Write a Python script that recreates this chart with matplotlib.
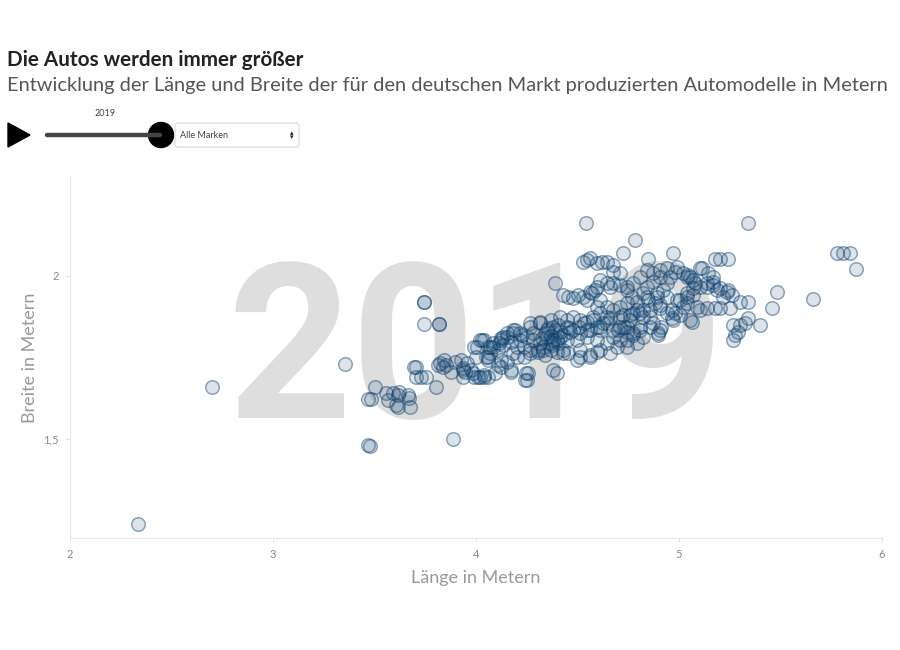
import matplotlib
matplotlib.use("Agg")
import matplotlib.pyplot as plt
from matplotlib.patches import Polygon, Circle, FancyBboxPatch

# Länge (m) und Breite (m) der Modelle, 2019
laenge = [
    # Ausreißer links
    2.335, 2.70, 3.353, 3.466, 3.476, 3.889,
    # Kleinwagen 3,45-3,85
    3.466, 3.481, 3.501, 3.555, 3.589, 3.619, 3.614, 3.663, 3.668, 3.565,
    3.604, 3.614, 3.673, 3.702, 3.702, 3.752, 3.742, 3.742, 3.742, 3.820,
    3.820, 3.801, 3.811, 3.825, 3.840,
    # 3,85-4,15
    3.899, 3.924, 3.934, 3.948, 3.938, 3.973, 3.988, 4.012, 4.037, 3.998,
    4.007, 4.037, 4.047, 4.057, 4.032, 4.057, 4.086, 4.111, 4.135, 3.693,
    3.727, 3.835, 3.938, 3.983, 4.022, 4.057, 4.121, 4.170, 3.958, 4.037,
    4.096, 4.106, 4.071, 4.022, 3.988, 4.121, 3.850, 3.875,
    # 4,15-4,45
    4.155, 4.180, 4.194, 4.229, 4.268, 4.283, 4.317, 4.352, 4.381, 4.416,
    4.155, 4.180, 4.204, 4.234, 4.268, 4.303, 4.332, 4.367, 4.401, 4.431,
    4.170, 4.258, 4.239, 4.381, 4.401, 4.184, 4.219, 4.253, 4.283, 4.317,
    4.155, 4.121, 4.086, 4.071, 4.106, 4.135, 4.170, 4.204, 4.234, 4.268,
    4.303, 4.332, 4.367, 4.401, 4.431, 4.121, 4.057, 4.244, 4.253, 4.455,
    4.268, 4.317, 4.367, 4.352, 4.381, 4.416, 4.219, 4.342, 4.342, 4.367,
    4.391, 4.406, 4.431, 4.357, 4.376, 4.406, 4.327, 4.460,
    # 4,45-4,85
    4.391, 4.544, 4.549, 4.563, 4.598, 4.622, 4.647, 4.677, 4.529, 4.711,
    4.677, 4.726, 4.785, 4.849, 4.431, 4.455, 4.480, 4.504, 4.529, 4.549,
    4.573, 4.598, 4.613, 4.563, 4.588, 4.647, 4.677, 4.711, 4.745, 4.775,
    4.809, 4.662, 4.745, 4.770, 4.613,
    4.627, 4.563, 4.598, 4.534, 4.509, 4.465, 4.416, 4.450, 4.480, 4.514,
    4.549, 4.578, 4.613, 4.647, 4.480, 4.514, 4.549, 4.613, 4.450, 4.578,
    4.613, 4.647, 4.677, 4.711, 4.745, 4.775, 4.809, 4.450, 4.499, 4.549,
    4.598, 4.647, 4.677, 4.711, 4.745, 4.795, 4.824, 4.514, 4.563, 4.613,
    4.662, 4.696, 4.499, 4.563, 4.598, 4.514,
    4.647, 4.677, 4.711, 4.745, 4.795, 4.726, 4.598, 4.662, 4.711, 4.760,
    4.809, 4.745, 4.775, 4.731, 4.701, 4.745, 4.760, 4.795, 4.824, 4.824,
    4.775,
    # 4,85-5,1
    4.942, 4.982, 5.021, 5.045, 4.908, 4.873, 4.844, 4.824, 4.849, 4.883,
    4.908, 4.942, 4.967, 4.982, 5.006, 5.041, 5.070, 5.105, 5.139, 5.168,
    4.898, 4.913, 4.873, 4.859, 4.893, 4.923, 4.942, 4.957, 4.992, 5.055,
    5.080, 5.139, 5.168, 5.203, 5.237, 5.262, 4.908, 4.972, 5.006, 5.021,
    4.992, 5.041, 5.070, 4.898, 4.859, 4.844, 4.873, 4.908, 5.041, 5.070,
    4.844, 4.893, 4.942, 5.041, 5.090, 4.859, 4.967, 5.055, 4.908, 4.972,
    4.809,
    # rechts
    5.341, 5.178, 5.203, 5.242, 5.114, 5.168, 5.144, 5.105, 5.242, 5.218,
    5.188, 5.178, 5.203, 5.252, 5.105, 5.139, 5.065, 5.301, 5.341, 5.267,
    5.301, 5.326, 5.341, 5.400, 5.291, 5.267, 5.277, 5.459, 5.483, 5.660,
    5.779, 5.808, 5.843, 5.872,
]

breite = [
    1.239, 1.660, 1.730, 1.482, 1.479, 1.500,
    1.623, 1.623, 1.660, 1.641, 1.641, 1.644, 1.635, 1.635, 1.626, 1.620,
    1.604, 1.598, 1.598, 1.721, 1.690, 1.690, 1.920, 1.920, 1.853, 1.853,
    1.853, 1.660, 1.727, 1.733, 1.742,
    1.736, 1.742, 1.718, 1.706, 1.690, 1.712, 1.690, 1.690, 1.690, 1.752,
    1.782, 1.804, 1.752, 1.742, 1.804, 1.782, 1.782, 1.794, 1.813, 1.721,
    1.690, 1.721, 1.712, 1.702, 1.690, 1.752, 1.742, 1.712, 1.733, 1.696,
    1.702, 1.727, 1.782, 1.804, 1.782, 1.810, 1.727, 1.706,
    1.825, 1.825, 1.834, 1.819, 1.844, 1.825, 1.856, 1.834, 1.844, 1.828,
    1.736, 1.764, 1.752, 1.752, 1.764, 1.773, 1.782, 1.794, 1.804, 1.773,
    1.706, 1.702, 1.681, 1.712, 1.702, 1.834, 1.825, 1.813, 1.804, 1.794,
    1.813, 1.804, 1.794, 1.764, 1.773, 1.788, 1.798, 1.782, 1.782, 1.773,
    1.767, 1.773, 1.773, 1.767, 1.764, 1.721, 1.690, 1.702, 1.681, 1.764,
    1.856, 1.859, 1.865, 1.813, 1.804, 1.813, 1.804, 1.758, 1.825, 1.816,
    1.834, 1.850, 1.819, 1.841, 1.788, 1.794, 1.810, 1.841,
    1.979, 2.163, 2.049, 2.055, 2.040, 2.043, 2.043, 2.034, 2.043, 2.009,
    2.012, 2.071, 2.110, 2.052, 1.942, 1.936, 1.933, 1.942, 1.936, 1.926,
    1.948, 1.966, 1.988, 1.951, 1.957, 1.979, 1.979, 1.972, 1.966, 1.979,
    1.997, 1.966, 1.957, 1.936, 1.926,
    1.856, 1.834, 1.844, 1.856, 1.844, 1.828, 1.874, 1.865, 1.874, 1.865,
    1.859, 1.874, 1.887, 1.874, 1.834, 1.825, 1.834, 1.834, 1.844, 1.865,
    1.844, 1.856, 1.834, 1.844, 1.828, 1.819, 1.834, 1.804, 1.804, 1.813,
    1.804, 1.794, 1.813, 1.804, 1.782, 1.794, 1.813, 1.773, 1.758, 1.773,
    1.764, 1.782, 1.742, 1.752, 1.767, 1.752,
    1.905, 1.896, 1.905, 1.917, 1.920, 1.880, 1.905, 1.871, 1.874, 1.880,
    1.887, 1.804, 1.825, 1.844, 1.834, 1.844, 1.865, 1.896, 1.874, 1.896,
    1.887,
    2.025, 2.012, 2.009, 2.003, 1.997, 1.982, 1.966, 1.948, 1.926, 1.917,
    1.902, 1.887, 1.871, 1.887, 1.926, 1.948, 1.963, 1.966, 1.979, 1.982,
    1.825, 1.844, 1.856, 1.874, 1.936, 1.957, 1.979, 1.997, 2.028, 1.997,
    1.979, 1.966, 1.972, 1.963, 1.951, 1.942, 1.911, 1.865, 1.880, 1.905,
    1.926, 1.936, 1.942, 1.819, 1.844, 2.018, 2.009, 2.018, 1.997, 1.988,
    1.936, 1.948, 1.936, 1.917, 1.905, 1.896, 1.896, 1.865, 1.834, 2.071,
    1.844,
    2.163, 2.052, 2.052, 2.052, 2.025, 1.997, 2.009, 2.025, 1.957, 1.936,
    1.957, 1.902, 1.902, 1.902, 1.896, 1.902, 1.859, 1.920, 1.920, 1.850,
    1.850, 1.856, 1.871, 1.850, 1.828, 1.804, 1.819, 1.902, 1.951, 1.929,
    2.071, 2.071, 2.071, 2.021,
]

x_ticks = [2, 3, 4, 5, 6]
y_ticks = [1.5, 2.0]
y_tick_labels = ["1,5", "2"]
jahr = "2019"

assert len(laenge) == len(breite)

plt.rcParams["font.family"] = ["Lato", "DejaVu Sans"]

fig = plt.figure(figsize=(9, 6.5), dpi=100)
ax = fig.add_axes([70 / 900, 1 - 538 / 650, 812 / 900, 360 / 650])

# großes Jahr im Hintergrund
ax.text(0.5, 0.333, jahr, transform=ax.transAxes, ha="center", va="baseline",
        fontsize=156, fontweight="bold", color="#dedede", family="Roboto", zorder=0)

blau = (0.05, 0.25, 0.43)
ax.scatter(laenge, breite, s=95, facecolors=blau + (0.14,),
           edgecolors=blau + (0.45,), linewidths=1.1, zorder=2)

ax.set_xlim(2, 6)
ax.set_ylim(1.196, 2.3006)
ax.set_xticks(x_ticks)
ax.set_xticklabels([str(t) for t in x_ticks])
ax.set_yticks(y_ticks)
ax.set_yticklabels(y_tick_labels)
ax.tick_params(colors="#e0e0e0", labelcolor="#888888", labelsize=8, length=3, pad=5)

for side in ["top", "right"]:
    ax.spines[side].set_visible(False)
for side in ["left", "bottom"]:
    ax.spines[side].set_color("#e6e6e6")

ax.set_xlabel("Länge in Metern", fontsize=13, color="#999999", labelpad=7)
ax.set_ylabel("Breite in Metern", fontsize=13, color="#999999", labelpad=4)

# Titel
fig.text(7 / 900, 1 - 60 / 650, "Die Autos werden immer größer", fontsize=14.9,
         fontweight="bold", color="#222222", va="center")
fig.text(7 / 900, 1 - 86 / 650,
         "Entwicklung der Länge und Breite der für den deutschen Markt produzierten Automodelle in Metern",
         fontsize=14.45, color="#555555", va="center")

# Bedienelemente (Play, Slider, Auswahl)
ui = fig.add_axes([0, 0, 1, 1], zorder=-1)
ui.set_xlim(0, 900)
ui.set_ylim(650, 0)
ui.axis("off")
ui.add_patch(Polygon([[8, 123], [8, 147], [30, 135]], closed=True, color="black"))
ui.plot([47, 160], [135, 135], color="#444444", lw=3.2, solid_capstyle="round")
ui.add_patch(Circle((161, 135), 12.5, color="black"))
ui.text(105, 114, jahr, fontsize=6.5, color="#444444", ha="center", va="center")
ui.add_patch(FancyBboxPatch((175, 123), 124, 24, boxstyle="round,pad=0,rounding_size=3",
                            facecolor="white", edgecolor="#d8d8d8", lw=0.8))
ui.text(180, 135.5, "Alle Marken", fontsize=6.5, color="#444444", va="center")
ui.text(292, 135, "▴\n▾", fontsize=5, color="#222222", ha="center", va="center",
        linespacing=0.6, family="DejaVu Sans")

fig.savefig("out.png", dpi=100)
plt.close(fig)
